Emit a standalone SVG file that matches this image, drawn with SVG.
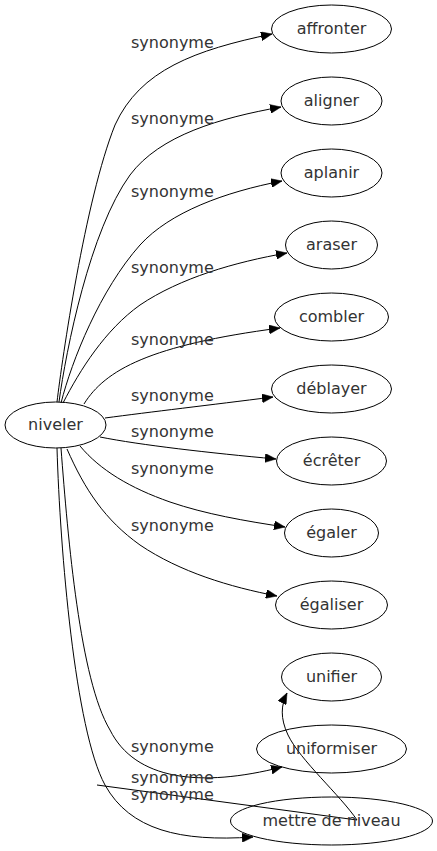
<svg xmlns="http://www.w3.org/2000/svg" width="437" height="851" viewBox="0 0 437 851">
<style>
.node ellipse{fill:none;stroke:#000;stroke-width:1}
.node text{font-family:"DejaVu Sans",Verdana,sans-serif;font-size:16px;fill:#333;text-anchor:middle}
.edges path{fill:none;stroke:#000;stroke-width:1;marker-end:url(#arr)}
.edges path.nomk{marker-end:none}
.edges text{font-family:"DejaVu Sans",Verdana,sans-serif;font-size:16px;fill:#333}
</style>
<defs>
<marker id="arr" markerUnits="userSpaceOnUse" markerWidth="12" markerHeight="9" refX="11" refY="4.5" orient="auto" viewBox="0 0 12 9">
<path d="M0,0 L11,4.5 L0,9 z" fill="#000" stroke="#000" stroke-width="0.5"/>
</marker>
</defs>
<rect width="437" height="851" fill="#fff"/>
<g class="edges">
<path d="M57,402 C62,360 85,200 115,125 C140,70 195,50 272,34"/>
<text x="131" y="48">synonyme</text>
<path d="M59,402 C66,350 90,230 130,175 C160,135 220,118 281,107"/>
<text x="131" y="124">synonyme</text>
<path d="M61,403 C72,360 100,290 140,245 C170,212 225,192 282,181"/>
<text x="131" y="197">synonyme</text>
<path d="M63,403 C80,370 105,330 140,305 C180,278 235,262 287,253"/>
<text x="131" y="273">synonyme</text>
<path d="M84,404 C105,370 150,345 280,328"/>
<text x="131" y="345">synonyme</text>
<path d="M105,418 C150,412 210,405 273,397"/>
<text x="131" y="401">synonyme</text>
<path d="M100,437 C140,445 210,453 276,459"/>
<text x="131" y="437">synonyme</text>
<path d="M80,446 C100,470 130,488 170,502 C205,514 245,521 285,527"/>
<text x="131" y="474">synonyme</text>
<path d="M67,449 C85,490 105,520 140,545 C180,572 230,587 277,596"/>
<text x="131" y="531">synonyme</text>
<path d="M61,448 C68,540 80,680 110,730 C135,780 200,788 282,767"/>
<text x="131" y="752">synonyme</text>
<path d="M57,448 C60,550 75,730 105,785 C130,830 180,842 253,837"/>
<text x="131" y="783">synonyme</text>
<path d="M97,785 L357,820 C340,795 300,760 288,735 C280,718 281,705 287,693"/>
<text x="131" y="800">synonyme</text>
</g>
<g id="n-niveler" class="node"><ellipse cx="55.5" cy="425" rx="50.5" ry="23"/><text x="55.5" y="430">niveler</text></g>
<g id="n-affronter" class="node"><ellipse cx="331.5" cy="29" rx="60" ry="24"/><text x="331.5" y="34">affronter</text></g>
<g id="n-aligner" class="node"><ellipse cx="331.5" cy="101" rx="50.5" ry="24"/><text x="331.5" y="106">aligner</text></g>
<g id="n-aplanir" class="node"><ellipse cx="331.5" cy="173" rx="50.5" ry="24"/><text x="331.5" y="178">aplanir</text></g>
<g id="n-araser" class="node"><ellipse cx="331.5" cy="245" rx="46" ry="24"/><text x="331.5" y="250">araser</text></g>
<g id="n-combler" class="node"><ellipse cx="331.5" cy="317" rx="57" ry="24"/><text x="331.5" y="322">combler</text></g>
<g id="n-deblayer" class="node"><ellipse cx="331.5" cy="389" rx="60" ry="24"/><text x="331.5" y="394">déblayer</text></g>
<g id="n-ecreter" class="node"><ellipse cx="331.5" cy="461" rx="55" ry="24"/><text x="331.5" y="466">écrêter</text></g>
<g id="n-egaler" class="node"><ellipse cx="331.5" cy="533" rx="47" ry="24"/><text x="331.5" y="538">égaler</text></g>
<g id="n-egaliser" class="node"><ellipse cx="331.5" cy="605" rx="56" ry="24"/><text x="331.5" y="610">égaliser</text></g>
<g id="n-unifier" class="node"><ellipse cx="331.5" cy="677" rx="50" ry="24"/><text x="331.5" y="682">unifier</text></g>
<g id="n-uniformiser" class="node"><ellipse cx="331.5" cy="749" rx="75" ry="24"/><text x="331.5" y="754">uniformiser</text></g>
<g id="n-mettre" class="node"><ellipse cx="331.5" cy="821" rx="101" ry="24"/><text x="331.5" y="826">mettre de niveau</text></g>
</svg>
